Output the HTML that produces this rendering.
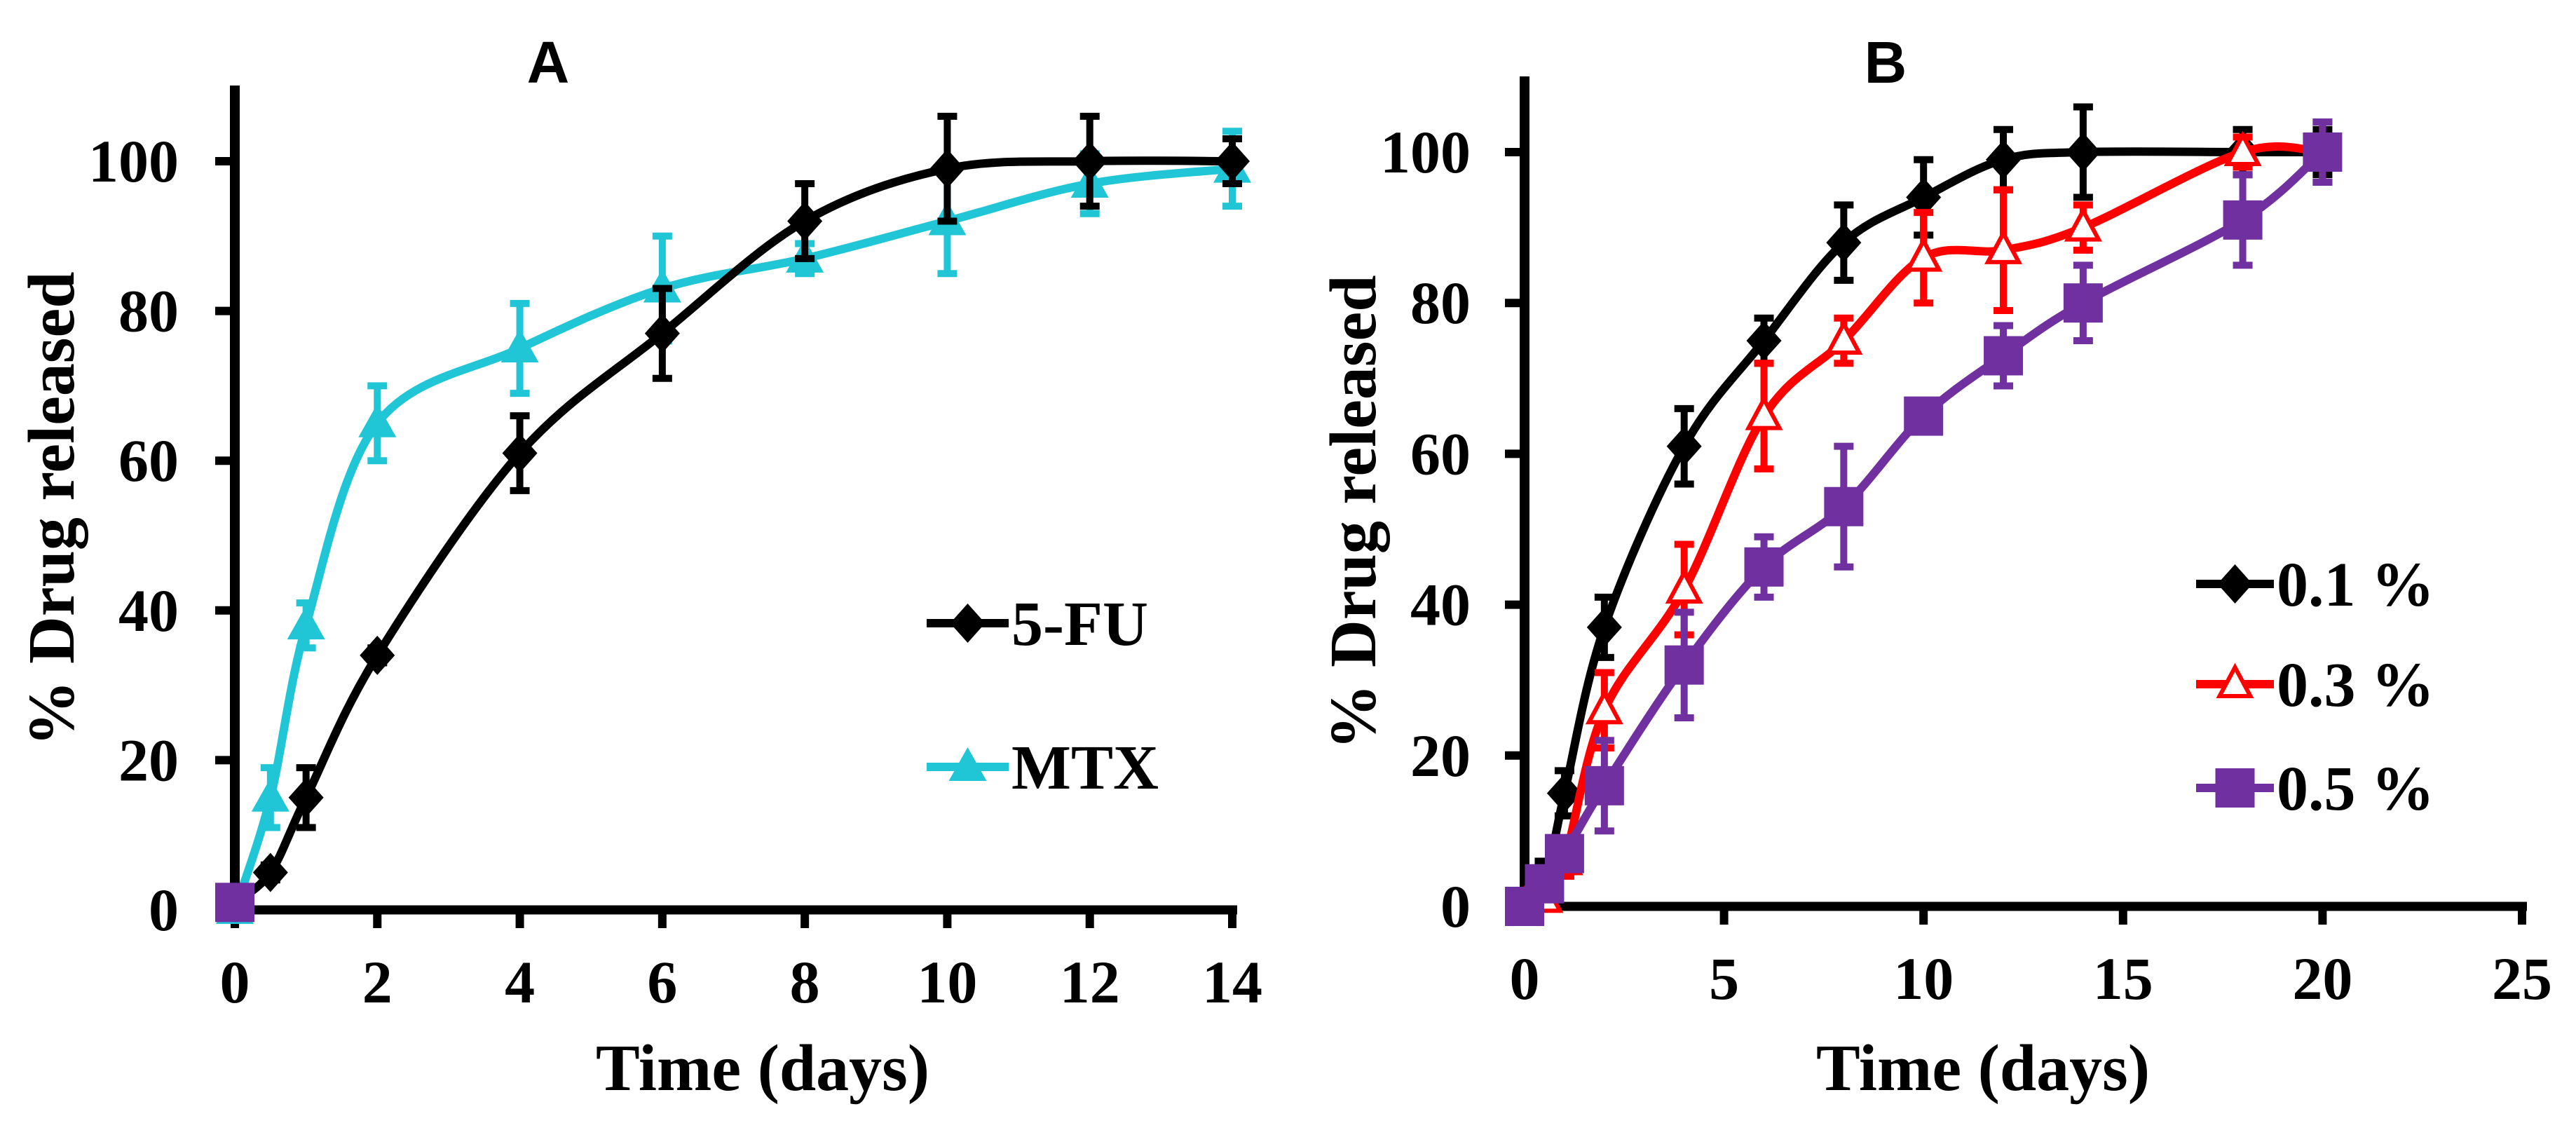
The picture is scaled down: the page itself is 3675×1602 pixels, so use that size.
<!DOCTYPE html>
<html><head><meta charset="utf-8"><style>
html,body{margin:0;padding:0;background:#fff}
svg{display:block}
.t{font-family:"Liberation Serif",serif;font-weight:bold;fill:#000}
.s{font-family:"Liberation Sans",sans-serif;font-weight:bold;fill:#000}
</style></head><body>
<svg id="chart" width="3675" height="1602" viewBox="0 0 3675 1602" xmlns="http://www.w3.org/2000/svg">
<rect width="3675" height="1602" fill="#fff"/>
</svg>
<script>
// Panel A data
const daysA = [0,0.5,1,2,4,6,8,10,12,14];
const fuA = [1,5,15,34,61,77,92,99,100,100];
const fuErrA = [0,1,4,1,5,6,5,7,6,3];
const mtxA = [0,15,38,65,75,83,87,92,97,99];
const mtxErrA = [0,4,3,5,6,7,2,7,4,5];
const xTicksA = [0,2,4,6,8,10,12,14];
const yTicks = [0,20,40,60,80,100];
// Panel B data
const daysB = [0,0.5,1,2,4,6,8,10,12,14,18,20];
const p01 = [0,3,15,37,61,75,88,94,99,100,100,100];
const p01Err = [1,3,3,4,5,3,5,5,4,6,3,3];
const p03 = [0,1,6,26,42,65,75,86,87,90,100,100];
const p03Err = [0,1,2,5,6,7,3,6,8,3,2,4];
const p05 = [0,3,7,16,32,45,53,65,73,80,91,100];
const p05Err = [0,2,2,6,7,4,8,2,4,5,6,4];
const xTicksB = [0,5,10,15,20,25];

const NS='http://www.w3.org/2000/svg';
const svg=document.getElementById('chart');
function el(tag,attrs,parent){const e=document.createElementNS(NS,tag);for(const k in attrs)e.setAttribute(k,attrs[k]);(parent||svg).appendChild(e);return e;}

function panel(cfg){
  const g=el('g',{});
  
  
  const sx=v=>cfg.x0+(v-cfg.xmin)*(cfg.x1-cfg.x0)/(cfg.xmax-cfg.xmin);
  const sy=v=>cfg.y0-v*(cfg.y0-cfg.y100)/100;
  const ya=el('line',{x1:cfg.x0,y1:cfg.ytop,x2:cfg.x0,y2:cfg.y0+6,stroke:'#000','stroke-width':14},g);
  
  
  const xa=el('line',{x1:cfg.x0-7,y1:cfg.y0,x2:cfg.x1+7,y2:cfg.y0,stroke:'#000','stroke-width':13},g);
  
  
  yTicks.forEach(v=>{
    el('line',{x1:cfg.x0-28,y1:sy(v),x2:cfg.x0,y2:sy(v),stroke:'#000','stroke-width':12},g);
    const t=el('text',{x:cfg.ylabR,y:sy(v)+29,'text-anchor':'end','font-size':86,class:'t'},g);
    t.textContent=v;
    
    
  });
  cfg.xticks.forEach(v=>{
    el('line',{x1:sx(v),y1:cfg.y0,x2:sx(v),y2:cfg.y0+26,stroke:'#000','stroke-width':12},g);
    const t=el('text',{x:sx(v),y:cfg.y0+132,'text-anchor':'middle','font-size':86,class:'t'},g);
    t.textContent=v;
    
    
  });
  const ti=el('text',{x:cfg.titleX,y:118,'text-anchor':'middle','font-size':84,class:'s'},g);
  ti.textContent=cfg.title;
  
  
  const xt=el('text',{x:cfg.xtitleX,y:1555,'text-anchor':'middle','font-size':94,class:'t'},g);
  xt.textContent='Time (days)';
  
  
  const yt=el('text',{x:0,y:0,'text-anchor':'middle','font-size':94,class:'t',transform:`translate(${cfg.ytitleX},${cfg.ytitleY}) rotate(-90)`},g);
  yt.textContent='% Drug released';
  
  
  return {g,sx,sy};
}

function smooth(pts){
  let d=`M${pts[0][0]},${pts[0][1]}`;
  for(let i=0;i<pts.length-1;i++){
    const p0=pts[Math.max(i-1,0)],p1=pts[i],p2=pts[i+1],p3=pts[Math.min(i+2,pts.length-1)];
    const t=1/6;
    const c1=[p1[0]+(p2[0]-p0[0])*t,p1[1]+(p2[1]-p0[1])*t];
    const c2=[p2[0]-(p3[0]-p1[0])*t,p2[1]-(p3[1]-p1[1])*t];
    d+=` C${c1[0]},${c1[1]} ${c2[0]},${c2[1]} ${p2[0]},${p2[1]}`;
  }
  return d;
}

function marker(g,shape,x,y,color,name){
  let m;
  if(shape==='diamond') m=el('polygon',{points:`${x},${y-28} ${x+25},${y} ${x},${y+28} ${x-25},${y}`,fill:color},g);
  else if(shape==='tri') m=el('polygon',{points:`${x},${y-28} ${x+27},${y+20} ${x-27},${y+20}`,fill:color},g);
  else if(shape==='otri') m=el('polygon',{points:`${x},${y-24} ${x+22},${y+17} ${x-22},${y+17}`,fill:'#fff',stroke:color,'stroke-width':6},g);
  else m=el('rect',{x:x-28,y:y-28,width:56,height:56,fill:color},g);
  
  
}

function series(P,xs,ys,errs,color,shape,name){
  const g=el('g',{},P.g);
  
  
  const pts=xs.map((x,i)=>[P.sx(x),P.sy(ys[i])]);
  const path=el('path',{d:smooth(pts),fill:'none',stroke:color,'stroke-width':12},g);
  
  
  xs.forEach((x,i)=>{
    if(errs[i]>0){
      const cx=P.sx(x),yt=P.sy(ys[i]+errs[i]),yb=P.sy(ys[i]-errs[i]);
      const e=el('path',{d:`M${cx},${yt} V${yb} M${cx-14},${yt} H${cx+14} M${cx-14},${yb} H${cx+14}`,stroke:color,'stroke-width':10,fill:'none'},g);
      
      
    }
  });
  xs.forEach((x,i)=>marker(g,shape,P.sx(x),P.sy(ys[i]),color,name+'-point'));
}

function legend(P,x1,x2,y,color,shape,label,name){
  const g=el('g',{},P.g);
  
  
  el('line',{x1:x1,y1:y,x2:x2,y2:y,stroke:color,'stroke-width':12},g);
  marker(g,shape,(x1+x2)/2,y,color,'legend-marker');
  const t=el('text',{x:x2+4,y:y+31,'font-size':90,class:'t'},g);
  t.textContent=label;
}

const A=panel({name:'panel-a',x0:335,x1:1758,xmin:0,xmax:14,y0:1298,y100:230,ytop:122,xticks:xTicksA,ylabR:255,title:'A',titleX:782,xtitleX:1088,ytitleX:105,ytitleY:726});
series(A,daysA,mtxA,mtxErrA,'#21c6d6','tri','mtx');
series(A,daysA,fuA,fuErrA,'#000','diamond','5fu');
marker(A.g,'square',A.sx(0),A.sy(1),'#7030a0','stray-point');
legend(A,1322,1439,889,'#000','diamond','5-FU','legend-5fu');
legend(A,1322,1439,1094,'#21c6d6','tri','MTX','legend-mtx');

const B=panel({name:'panel-b',x0:2175,x1:3598,xmin:0,xmax:25,y0:1293,y100:217,ytop:109,xticks:xTicksB,ylabR:2098,title:'B',titleX:2690,xtitleX:2829,ytitleX:1962,ytitleY:731});
series(B,daysB,p01,p01Err,'#000','diamond','p01');
series(B,daysB,p03,p03Err,'#ff0000','otri','p03');
series(B,daysB,p05,p05Err,'#7030a0','square','p05');
legend(B,3133,3244,833,'#000','diamond','0.1 %','legend-0-1');
legend(B,3133,3244,976,'#ff0000','otri','0.3 %','legend-0-3');
legend(B,3133,3244,1124,'#7030a0','square','0.5 %','legend-0-5');
</script>
</body></html>
